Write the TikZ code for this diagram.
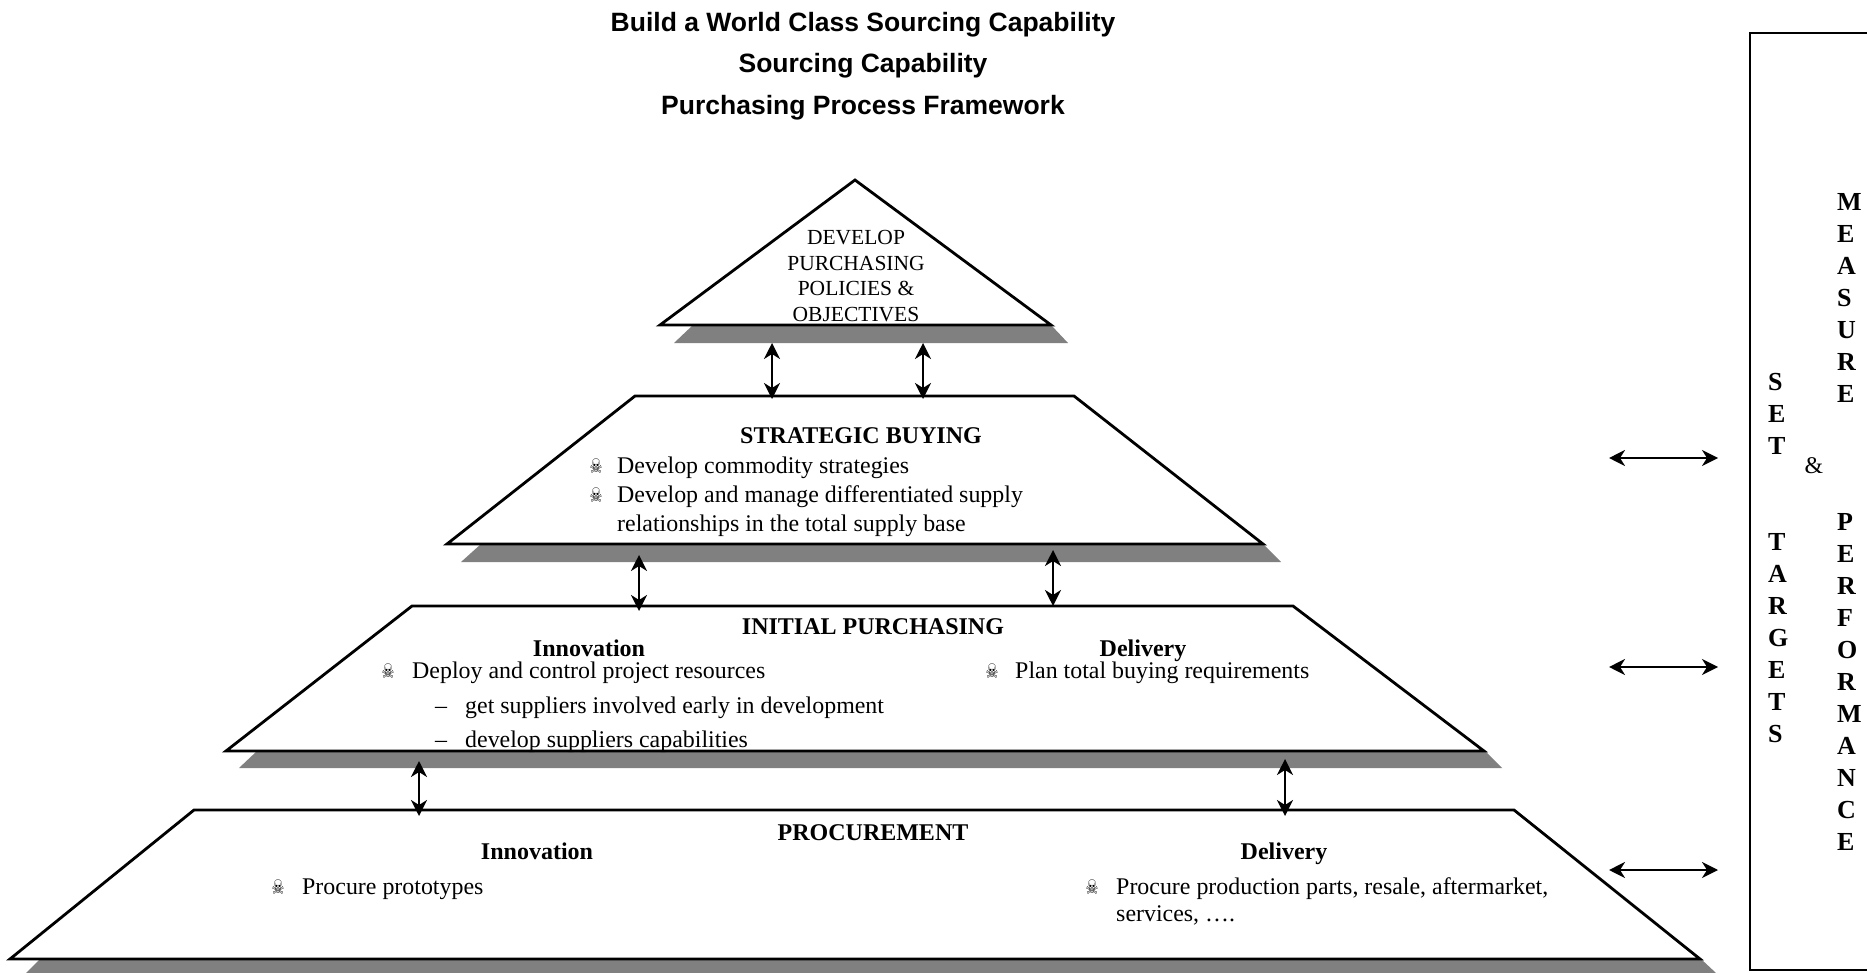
\documentclass[tikz,border=0pt]{standalone}
\usepackage{fontspec}
\setmainfont{Liberation Serif}
\newfontfamily\titlefont{Liberation Sans}
\newfontfamily\skullfont[FakeStretch=0.72]{DejaVu Sans}
\usetikzlibrary{arrows.meta}
\begin{document}
\begin{tikzpicture}[x=1pt,y=-1pt,
        level/.style={draw=black,fill=white,line width=2.8pt,line join=miter},
        shade/.style={fill=black!50},
        link/.style={{Stealth[length=16pt,width=16pt,inset=5pt]}-{Stealth[length=16pt,width=16pt,inset=5pt]},line width=2.4pt},
        heading/.style={font=\titlefont\bfseries\fontsize{26.5}{30}\selectfont,inner sep=0pt,anchor=base},
        levelname/.style={font=\bfseries\fontsize{24}{28}\selectfont,inner sep=0pt,anchor=base},
        body/.style={font=\fontsize{23.9}{28}\selectfont,inner sep=0pt,anchor=base west},
        skull/.style={font=\skullfont\fontsize{20}{24}\selectfont,inner sep=0pt,anchor=base},
        letters/.style={font=\bfseries\fontsize{26}{32}\selectfont,inner sep=0pt,anchor=north west,align=left}]
      \useasboundingbox (0,0) rectangle (1867,973);
      % headings
      \node (title1) at (863,32) [heading] {Build a World Class Sourcing Capability};
      \node (title2) at (863,73) [heading] {Sourcing Capability};
      \node (title3) at (863,115) [heading] {Purchasing Process Framework};
      % shadows
      \fill[shade] (693,325) -- (1051,325) -- (1068,343) -- (674,343) -- cycle;
      \fill[shade] (481,544) -- (1263,544) -- (1281,562) -- (461,562) -- cycle;
      \fill[shade] (257,751) -- (1485,751) -- (1502,768) -- (239,768) -- cycle;
      \fill[shade] (40,959) -- (1701,959) -- (1716,973) -- (26,973) -- cycle;
      % pyramid
      \draw[level] (855,180) -- (1051,325) -- (660,325) -- cycle;
      \draw[level] (635,396) -- (1074,396) -- (1263,544) -- (447,544) -- cycle;
      \draw[level] (412,606) -- (1293,606) -- (1484,751) -- (226,751) -- cycle;
      \draw[level] (194,810) -- (1514,810) -- (1700,959) -- (10,959) -- cycle;
      % right box
      \draw[line width=2.8pt] (1880,33) -- (1750,33) -- (1750,970) -- (1880,970);
      % top
      \node (develop) at (856,245) [body,anchor=base,font=\fontsize{21.5}{26}\selectfont] {DEVELOP};
      \node (purchasing) at (856,271) [body,anchor=base,font=\fontsize{21.5}{26}\selectfont] {PURCHASING};
      \node (policies) at (856,296) [body,anchor=base,font=\fontsize{21.5}{26}\selectfont] {POLICIES \&};
      \node (objectives) at (856,322) [body,anchor=base,font=\fontsize{21.5}{26}\selectfont] {OBJECTIVES};
      % strategic buying
      \node (strategic) at (861,443) [levelname] {STRATEGIC BUYING};
      \node (s1) at (596,473) [skull] {☠};
      \node (s1t) at (617,473) [body] {Develop commodity strategies};
      \node (s2) at (596,502) [skull] {☠};
      \node (s2t) at (617,502) [body] {Develop and manage differentiated supply};
      \node (s3t) at (617,531) [body] {relationships in the total supply base};
      % initial purchasing
      \node (initial) at (873,634) [levelname] {INITIAL PURCHASING};
      \node (iinno) at (589,656) [levelname] {Innovation};
      \node (ideli) at (1143,656) [levelname] {Delivery};
      \node (i1) at (388,678) [skull] {☠};
      \node (i1t) at (412,678) [body] {Deploy and control project resources};
      \node (i2d) at (435,713) [body] {--};
      \node (i2t) at (465,713) [body] {get suppliers involved early in development};
      \node (i3d) at (435,747) [body] {--};
      \node (i3t) at (465,747) [body] {develop suppliers capabilities};
      \node (i4) at (992,678) [skull] {☠};
      \node (i4t) at (1015,678) [body] {Plan total buying requirements};
      % procurement
      \node (procurement) at (873,840) [levelname] {PROCUREMENT};
      \node (pinno) at (537,859) [levelname] {Innovation};
      \node (pdeli) at (1284,859) [levelname] {Delivery};
      \node (p1) at (278,894) [skull] {☠};
      \node (p1t) at (302,894) [body] {Procure prototypes};
      \node (p2) at (1092,894) [skull] {☠};
      \node (p2t) at (1116,894) [body] {Procure production parts, resale, aftermarket,};
      \node (p3t) at (1116,921) [body] {services, ….};
      % box text
      \node (settargets) at (1768,373) [letters] {S\\E\\T\\ \\ \\T\\A\\R\\G\\E\\T\\S};
      \node (measure) at (1837,193) [letters] {M\\E\\A\\S\\U\\R\\E\\ \\ \\ \\P\\E\\R\\F\\O\\R\\M\\A\\N\\C\\E};
      \node (and) at (1814,473) [body,anchor=base] {\&};
      % arrow ends
      \coordinate (a1) at (772,343);
      \coordinate (b1) at (772,399);
      \coordinate (a2) at (923,343);
      \coordinate (b2) at (923,399);
      \coordinate (a3) at (639,555);
      \coordinate (b3) at (639,611);
      \coordinate (a4) at (1053,550);
      \coordinate (b4) at (1053,606);
      \coordinate (a5) at (419,761);
      \coordinate (b5) at (419,816);
      \coordinate (a6) at (1285,759);
      \coordinate (b6) at (1285,816);
      \coordinate (c1) at (1609,458);
      \coordinate (d1) at (1718,458);
      \coordinate (c2) at (1609,667);
      \coordinate (d2) at (1718,667);
      \coordinate (c3) at (1609,870);
      \coordinate (d3) at (1718,870);
      \draw (a1) edge[link] (b1);
      \draw (a2) edge[link] (b2);
      \draw (a3) edge[link] (b3);
      \draw (a4) edge[link] (b4);
      \draw (a5) edge[link] (b5);
      \draw (a6) edge[link] (b6);
      \draw (c1) edge[link] (d1);
      \draw (c2) edge[link] (d2);
      \draw (c3) edge[link] (d3);
\end{tikzpicture}
\end{document}
